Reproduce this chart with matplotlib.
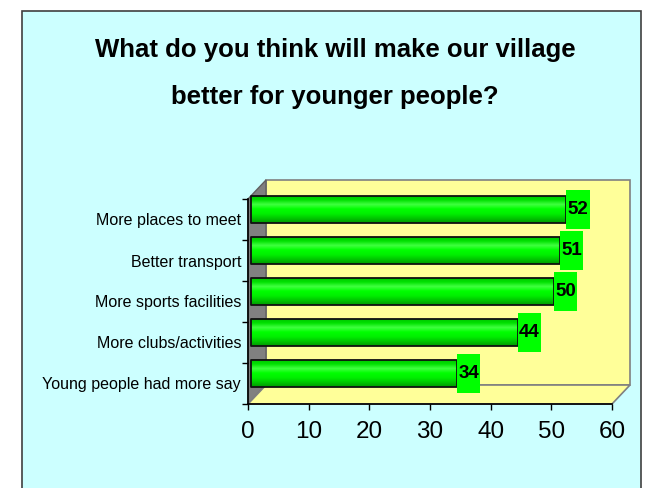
import numpy as np
import matplotlib
matplotlib.use('Agg')
import matplotlib.pyplot as plt
from matplotlib.patches import Rectangle, Polygon
from matplotlib.transforms import ScaledTranslation
from matplotlib.colors import LinearSegmentedColormap

categories = ['More places to meet', 'Better transport', 'More sports facilities',
              'More clubs/activities', 'Young people had more say']
values = [52, 51, 50, 44, 34]
x_ticks = [0, 10, 20, 30, 40, 50, 60]
title_lines = ['What do you think will make our village', 'better for younger people?']

plt.rcParams['font.family'] = ['Liberation Sans', 'DejaVu Sans']

W, H = 649, 488
fig = plt.figure(figsize=(W / 100, H / 100), dpi=100, facecolor='white')

# cyan chart area with border
fig.add_artist(Rectangle((22 / W, -0.05), (641 - 22) / W, 1.05 - 11 / H,
                         transform=fig.transFigure, facecolor='#CCFFFF',
                         edgecolor='#404040', lw=1.2, zorder=0))

fig.text(335 / W, 1 - 50 / H, title_lines[0], ha='center', va='center',
         fontsize=18.5, fontweight='bold')
fig.text(335 / W, 1 - 97 / H, title_lines[1], ha='center', va='center',
         fontsize=18.5, fontweight='bold')

ax = fig.add_axes([248 / W, 84 / H, 364 / W, 205 / H])
ax.set_facecolor('none')

# fake 3d walls
ddx, ddy = 18 / 364, 19 / 205
ax.add_patch(Rectangle((ddx, ddy), 1, 1, transform=ax.transAxes, fc='#FFFF99',
                       ec='#808080', lw=1.2, clip_on=False, zorder=0))
ax.add_patch(Polygon([(0, 0), (0, 1), (ddx, 1 + ddy), (ddx, ddy)], transform=ax.transAxes,
                     fc='#808080', ec='#606060', lw=1, clip_on=False, zorder=0.5))
ax.add_patch(Polygon([(0, 0), (1, 0), (1 + ddx, ddy), (ddx, ddy)], transform=ax.transAxes,
                     fc='#FFFF99', ec='#808080', lw=1.2, clip_on=False, zorder=0.5))

mid = ax.transData + ScaledTranslation(0.03, 0.10, fig.dpi_scale_trans)
ypos = np.arange(len(categories))[::-1]
h = 0.68

cm = LinearSegmentedColormap.from_list(
    'cyl', ['#00C000', '#00E000', '#40FF40', '#00FF00', '#00F000', '#00C800', '#009A00'])
grad = np.linspace(0, 1, 64).reshape(-1, 1)

bars = ax.barh(ypos, values, height=h, fc='none', ec='#101010', lw=1.3,
               transform=mid, zorder=3, clip_on=False, joinstyle='round')
for bar, y, v in zip(bars, ypos, values):
    im = ax.imshow(grad, cmap=cm, extent=[0, v, y - h / 2, y + h / 2], origin='upper',
                   aspect='auto', transform=mid, zorder=2, interpolation='bilinear')
    im.set_clip_path(bar)
    ax.add_patch(Rectangle((v, y - 0.465), 3.8, 0.93, transform=mid, fc='#00FF00',
                           ec='none', zorder=4, clip_on=False))
    ax.text(v + 1.9, y, str(v), transform=mid, ha='center', va='center',
            fontsize=13.5, fontweight='bold', zorder=5)

ax.set_xlim(0, 60)
ax.set_ylim(-0.5, 4.5)
ax.set_xticks(x_ticks)
ax.set_yticks(ypos, categories)
ax.set_yticks(np.arange(-0.5, len(categories)), minor=True)
ax.tick_params(axis='y', which='major', length=0, pad=5, labelsize=11.5)
ax.tick_params(axis='y', which='minor', length=4, width=1)
ax.tick_params(axis='x', length=4, width=1, pad=8, labelsize=17.5)
for s in ['top', 'right']:
    ax.spines[s].set_visible(False)
for s in ['left', 'bottom']:
    ax.spines[s].set_color('black')
    ax.spines[s].set_linewidth(1.2)

fig.savefig('out.png', dpi=100, facecolor=fig.get_facecolor())
